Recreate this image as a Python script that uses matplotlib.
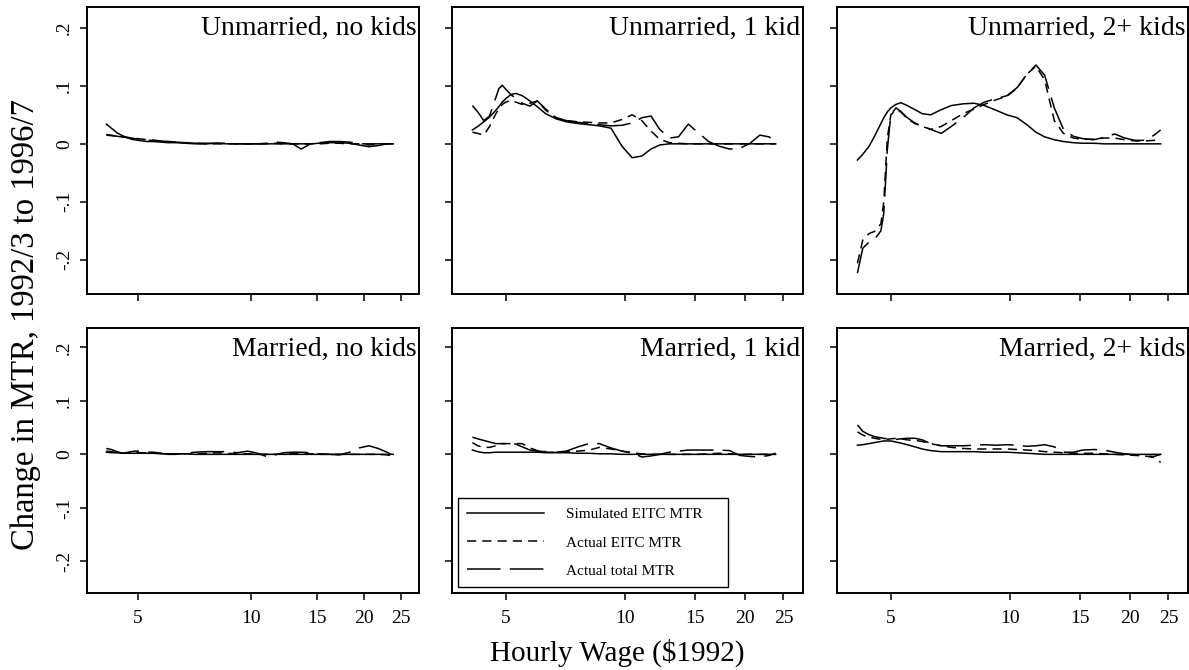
import numpy as np
import matplotlib
matplotlib.use("Agg")
import matplotlib.pyplot as plt

plt.rcParams['font.family'] = ['Liberation Serif', 'DejaVu Serif']

# common wage grid (hourly wage, $1992)
wage = [4.12, 4.25, 4.4, 4.55, 4.72, 4.8, 4.9, 5.0, 5.15, 5.3, 5.5, 5.75, 6.0,
        6.3, 6.7, 7.1, 7.6, 8.1, 8.6, 9.2, 9.8, 10.4, 11.0, 11.6, 12.2, 12.9,
        13.6, 14.4, 15.2, 16.2, 17.2, 18.3, 19.4, 20.6, 21.8, 23.0, 23.9]

# Unmarried, no kids
sim_um0 = [0.034, 0.027, 0.019, 0.014, 0.010, 0.008, 0.007, 0.006, 0.005, 0.004, 0.004, 0.003, 0.002,
           0.002, 0.001, 0.0, 0.0, 0.001, 0.0, 0.0, 0.0, 0.0, 0.0, 0.0, 0.0, 0.0,
           -0.009, 0.0, 0.001, 0.002, 0.002, 0.001, -0.002, -0.005, -0.003, 0.0, 0.0]
eitc_um0 = [0.015, 0.014, 0.013, 0.012, 0.011, 0.010, 0.010, 0.009, 0.008, 0.007, 0.006, 0.005, 0.004,
            0.003, 0.002, 0.001, 0.0, 0.0, 0.0, 0.0, 0.0, 0.0, 0.0, 0.001, 0.0, 0.0,
            0.0, 0.0, 0.0, 0.001, 0.001, 0.0, 0.0, -0.002, -0.001, 0.0, 0.0]
tot_um0 = [0.016, 0.015, 0.013, 0.012, 0.010, 0.010, 0.009, 0.008, 0.007, 0.006, 0.006, 0.005, 0.004,
           0.003, 0.002, 0.001, 0.001, 0.001, 0.001, 0.0, 0.0, 0.0, 0.001, 0.003, 0.002, 0.0,
           0.0, 0.0, 0.002, 0.004, 0.004, 0.003, 0.0, 0.0, 0.0, 0.0, 0.0]

# Unmarried, 1 kid
sim_um1 = [0.024, 0.030, 0.038, 0.046, 0.058, 0.064, 0.072, 0.078, 0.085, 0.087, 0.083, 0.074, 0.064,
           0.052, 0.043, 0.038, 0.035, 0.033, 0.031, 0.027, -0.004, -0.024, -0.021, -0.009, -0.002, 0.0,
           0.0, 0.0, 0.0, 0.0, 0.0, 0.0, 0.0, 0.0, 0.0, 0.0, 0.0]
eitc_um1 = [0.020, 0.018, 0.015, 0.030, 0.052, 0.060, 0.068, 0.072, 0.075, 0.072, 0.068, 0.070, 0.074,
            0.058, 0.045, 0.040, 0.038, 0.037, 0.036, 0.036, 0.042, 0.050, 0.040, 0.022, 0.008, 0.002,
            0.001, 0.0, 0.0, 0.0, 0.0, 0.0, 0.0, 0.0, 0.0, 0.0, 0.0]
tot_um1 = [0.066, 0.055, 0.040, 0.048, 0.080, 0.095, 0.101, 0.094, 0.085, 0.078, 0.070, 0.065, 0.074,
           0.060, 0.045, 0.040, 0.037, 0.035, 0.033, 0.031, 0.032, 0.036, 0.045, 0.048, 0.025, 0.010,
           0.012, 0.034, 0.020, 0.004, -0.004, -0.009, -0.008, 0.001, 0.015, 0.012, 0.005]

# Unmarried, 2+ kids
sim_um2 = [-0.028, -0.018, -0.005, 0.013, 0.035, 0.045, 0.055, 0.062, 0.068, 0.071, 0.066, 0.059, 0.052,
           0.050, 0.059, 0.066, 0.069, 0.070, 0.066, 0.058, 0.050, 0.045, 0.033, 0.020, 0.012, 0.007,
           0.004, 0.002, 0.001, 0.001, 0.0, 0.0, 0.0, 0.0, 0.0, 0.0, 0.0]
eitc_um2 = [-0.206, -0.166, -0.155, -0.151, -0.138, -0.100, 0.010, 0.050, 0.058, 0.055, 0.043, 0.035, 0.030,
            0.025, 0.030, 0.040, 0.052, 0.060, 0.068, 0.076, 0.082, 0.096, 0.120, 0.134, 0.110, 0.040,
            0.018, 0.010, 0.008, 0.008, 0.010, 0.010, 0.007, 0.005, 0.005, 0.006, 0.006]
tot_um2 = [-0.223, -0.180, -0.170, -0.165, -0.150, -0.120, -0.010, 0.050, 0.062, 0.056, 0.045, 0.036, 0.030,
           0.025, 0.018, 0.030, 0.045, 0.062, 0.072, 0.078, 0.083, 0.097, 0.120, 0.136, 0.118, 0.062,
           0.025, 0.013, 0.009, 0.007, 0.011, 0.017, 0.010, 0.006, 0.006, 0.015, 0.024]

# Married, no kids
sim_m0 = [0.004, 0.003, 0.003, 0.002, 0.002, 0.002, 0.002, 0.002, 0.002, 0.002, 0.002, 0.001, 0.001,
          0.001, 0.001, 0.0, 0.0, 0.0, 0.0, 0.0, 0.0, 0.0, 0.0, 0.0, 0.0, 0.0,
          0.0, 0.0, 0.0, 0.0, 0.0, 0.0, 0.0, 0.0, 0.0, 0.0, 0.0]
eitc_m0 = [0.006, 0.005, 0.003, 0.002, 0.003, 0.004, 0.004, 0.003, 0.003, 0.003, 0.003, 0.002, 0.001,
           0.001, 0.001, 0.001, 0.002, 0.003, 0.002, 0.001, 0.001, 0.0, 0.0, 0.0, 0.001, 0.002,
           0.002, 0.001, 0.0, 0.0, 0.0, 0.0, 0.0, 0.0, 0.0, -0.001, -0.003]
tot_m0 = [0.011, 0.009, 0.005, 0.002, 0.004, 0.005, 0.006, 0.006, 0.005, 0.004, 0.004, 0.002, 0.0,
          0.0, 0.002, 0.004, 0.005, 0.005, 0.005, 0.003, 0.006, 0.002, -0.004, -0.001, 0.003, 0.004,
          0.004, 0.003, 0.001, 0.0, -0.001, 0.004, 0.012, 0.016, 0.011, 0.004, -0.002]

# Married, 1 kid
sim_m1 = [0.008, 0.005, 0.003, 0.003, 0.004, 0.004, 0.004, 0.004, 0.004, 0.004, 0.004, 0.004, 0.004,
          0.003, 0.003, 0.003, 0.002, 0.002, 0.001, 0.001, 0.0, 0.0, 0.0, 0.0, 0.0, 0.0,
          0.0, 0.0, 0.0, 0.0, 0.0, 0.0, 0.0, 0.0, 0.0, 0.0, 0.0]
eitc_m1 = [0.022, 0.016, 0.013, 0.013, 0.016, 0.018, 0.020, 0.020, 0.020, 0.020, 0.020, 0.012, 0.007,
           0.004, 0.004, 0.005, 0.006, 0.008, 0.013, 0.010, 0.006, 0.003, 0.001, 0.0, 0.0, 0.0,
           0.0, 0.0, 0.0, 0.001, 0.002, 0.001, 0.0, 0.0, 0.0, 0.0, 0.0]
tot_m1 = [0.032, 0.029, 0.026, 0.023, 0.020, 0.020, 0.020, 0.020, 0.021, 0.019, 0.014, 0.008, 0.006,
          0.005, 0.004, 0.006, 0.014, 0.020, 0.020, 0.012, 0.006, 0.003, -0.005, -0.003, 0.0, 0.004,
          0.006, 0.008, 0.008, 0.008, 0.008, 0.007, -0.002, -0.004, -0.005, -0.002, 0.002]

# Married, 2+ kids
sim_m2 = [0.017, 0.018, 0.020, 0.022, 0.024, 0.025, 0.025, 0.025, 0.023, 0.021, 0.018, 0.014, 0.010,
          0.007, 0.005, 0.005, 0.005, 0.005, 0.004, 0.004, 0.004, 0.003, 0.002, 0.001, 0.0, 0.0,
          0.0, 0.0, 0.0, 0.0, 0.0, 0.0, 0.0, 0.0, 0.0, 0.0, 0.0]
eitc_m2 = [0.042, 0.036, 0.032, 0.030, 0.028, 0.028, 0.028, 0.029, 0.030, 0.029, 0.027, 0.026, 0.024,
           0.020, 0.016, 0.013, 0.011, 0.010, 0.010, 0.010, 0.010, 0.009, 0.008, 0.007, 0.005, 0.004,
           0.003, 0.002, 0.002, 0.002, 0.001, 0.0, -0.001, -0.002, -0.003, -0.006, -0.015]
tot_m2 = [0.055, 0.043, 0.037, 0.033, 0.031, 0.030, 0.029, 0.028, 0.028, 0.029, 0.030, 0.030, 0.027,
          0.020, 0.016, 0.016, 0.016, 0.017, 0.018, 0.017, 0.018, 0.017, 0.015, 0.016, 0.018, 0.014,
          0.004, 0.004, 0.008, 0.009, 0.008, 0.004, 0.001, -0.001, -0.003, -0.004, 0.0]

titles = ["Unmarried, no kids", "Unmarried, 1 kid", "Unmarried, 2+ kids",
          "Married, no kids", "Married, 1 kid", "Married, 2+ kids"]
panels = [(sim_um0, eitc_um0, tot_um0), (sim_um1, eitc_um1, tot_um1), (sim_um2, eitc_um2, tot_um2),
          (sim_m0, eitc_m0, tot_m0), (sim_m1, eitc_m1, tot_m1), (sim_m2, eitc_m2, tot_m2)]

xticks = [5, 10, 15, 20, 25]
yticks = [-0.2, -0.1, 0, 0.1, 0.2]
ytick_labels = ["-.2", "-.1", "0", ".1", ".2"]

W, H = 1189, 670
fig = plt.figure(figsize=(W / 100, H / 100), dpi=100)

# panel boxes in pixels: (left, right), (top, bottom)
cols = [(87, 419), (452, 803), (837, 1188)]
rows = [(7, 294), (328, 593)]

for i in range(6):
    r, c = divmod(i, 3)
    l, rr = cols[c]
    t, b = rows[r]
    ax = fig.add_axes([l / W, 1 - b / H, (rr - l) / W, (b - t) / H])
    sim, eitc, tot = panels[i]
    ax.plot(wage, sim, color='black', lw=1.1, label="Simulated EITC MTR")
    ax.plot(wage, eitc, color='black', lw=1.1, dashes=(6, 4), label="Actual EITC MTR")
    ax.plot(wage, tot, color='black', lw=1.1, dashes=(22, 6), label="Actual total MTR")

    ax.set_xscale('log')
    ax.set_xlim(3.66, 28.0)
    ax.set_ylim(-0.259, 0.236)
    ax.set_xticks(xticks)
    ax.xaxis.set_minor_locator(matplotlib.ticker.NullLocator())
    ax.set_yticks(yticks)
    if r == 1:
        ax.set_xticklabels([str(v) for v in xticks])
    else:
        ax.set_xticklabels([])
    if c == 0:
        ax.set_yticklabels(ytick_labels, rotation=90, va='center')
    else:
        ax.set_yticklabels([])
    ax.tick_params(axis='x', direction='out', length=5, width=1.1, labelsize=14, pad=7)
    ax.tick_params(axis='y', direction='out', length=5, width=1.1, labelsize=14, pad=5)
    for s in ax.spines.values():
        s.set_linewidth(1.4)

    ax.text(0.992, 0.968, titles[i], transform=ax.transAxes, ha='right', va='top', fontsize=20)

    if i == 4:
        ax.legend(loc='lower left', bbox_to_anchor=(0.017, 0.023, 0.77, 0.3), mode='expand',
                  borderaxespad=0, fontsize=11, handlelength=5, handletextpad=1.5,
                  labelspacing=0.95, fancybox=False, edgecolor='black', framealpha=1,
                  borderpad=0.6)

fig.text(26 / W, 1 - 325 / H, "Change in MTR, 1992/3 to 1996/7", rotation=90,
         ha='center', va='center', fontsize=23.5)
fig.text(617 / W, 1 - 653 / H, "Hourly Wage ($1992)", ha='center', va='center', fontsize=21)

fig.savefig("out.png", dpi=100)
